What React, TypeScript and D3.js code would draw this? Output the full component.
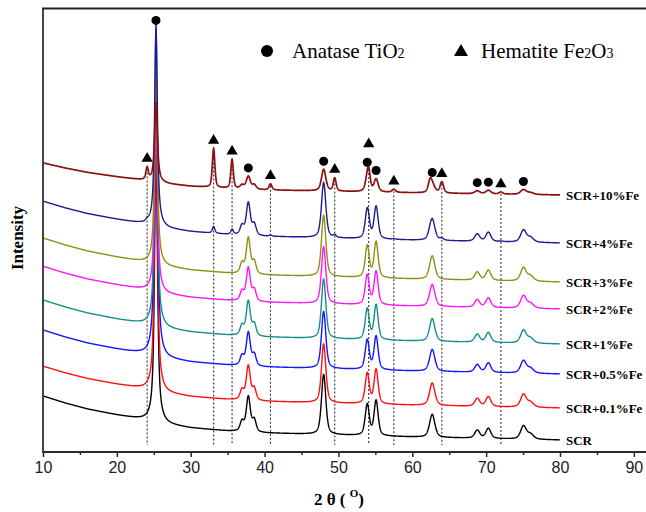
import { useRef, useEffect } from 'react'
import * as d3 from 'd3'

const seriesNames = ['SCR', 'SCR+0.1%Fe', 'SCR+0.5%Fe', 'SCR+1%Fe', 'SCR+2%Fe', 'SCR+3%Fe', 'SCR+4%Fe', 'SCR+10%Fe']
const seriesColors = ['#000000', '#ff1010', '#1414ff', '#13908a', '#ff14ff', '#8f8f12', '#1c1c8c', '#8c1010']
// vertical stacking offset of every pattern (a.u.)
const seriesOffsets = [12, 44, 78, 108, 143, 170, 209, 257]
// anatase (101) peak height of every pattern
const peak101 = [291, 294, 333, 265, 200, 198, 196, 80]
const anataseScale = [1, 0.98, 0.95, 0.99, 0.95, 1.02, 0.92, 0.36]
const hematiteScale = [0, 0, 0, 0, 0, 0, 0.17, 1]
const bgScale = [1, 0.95, 1, 1, 0.97, 1, 0.95, 0.73]

const anataseAngles = [36.95, 37.8, 38.6, 48.0, 53.9, 55.1, 62.7, 68.8, 70.3, 75.05, 76.0]
const anataseHeights = [10, 35, 12, 60, 31, 35, 23, 8, 10, 13, 5]
const anataseWidths = [0.6, 0.65, 0.6, 0.7, 0.65, 0.65, 0.85, 0.8, 0.8, 0.9, 1.0]

const hematiteAngles = [24.1, 33.1, 35.6, 40.8, 49.5, 54.1, 57.5, 62.4, 64.0, 72.0]
const hematiteHeights = [12, 39, 29, 6, 13, 16, 3, 9, 11, 2]
const hematiteWidths = [0.4, 0.4, 0.4, 0.45, 0.45, 0.5, 0.55, 0.55, 0.55, 0.55]

// amorphous background, read at a few angles
const bgAngles = [10, 13, 16, 20, 23, 27, 30, 35, 40, 50, 60, 70, 80]
const bgLevels = [44, 37, 31, 25, 21, 15, 12, 9, 7, 5, 3, 1.5, 0]

const anataseMarks = [37.8, 48.0, 53.9, 55.1, 62.7, 68.8, 70.3, 75.05]
const hematiteMarks = [24.1, 33.1, 35.6, 40.8, 49.5, 54.1, 57.5, 64.0, 72.0]

const xTicks = [10, 20, 30, 40, 50, 60, 70, 80, 90]
const xMinorTicks = [15, 25, 35, 45, 55, 65, 75, 85]

const serif = 'Liberation Serif, Times New Roman, serif'
const sans = 'Liberation Sans, Arial, sans-serif'

const pv = (t: number, c: number, h: number, w: number, eta = 0.5) => {
  const d = (t - c) / (w / 2)
  return h * (eta / (1 + d * d) + (1 - eta) * Math.exp(-Math.LN2 * d * d))
}

const App = () => {
  const ref = useRef<SVGSVGElement>(null)

  useEffect(() => {
    const svg = d3.select(ref.current)
    svg.selectAll('*').remove()

    const x = d3.scaleLinear().domain([10, 80]).range([43, 560])
    const y = d3.scaleLinear().domain([0, 444]).range([452, 8])
    const bg = d3.scaleLinear().domain(bgAngles).range(bgLevels).clamp(true)

    const intensity = (i: number, t: number) => {
      let v = seriesOffsets[i] + bgScale[i] * bg(t)
      v += pv(t, 25.3, peak101[i], 0.45, 0.85)
      anataseAngles.forEach((a, k) => { v += pv(t, a, anataseScale[i] * anataseHeights[k], anataseWidths[k]) })
      if (hematiteScale[i] > 0) {
        hematiteAngles.forEach((a, k) => { v += pv(t, a, hematiteScale[i] * hematiteHeights[k], hematiteWidths[k]) })
      }
      return v
    }

    const angles = d3.range(10, 80.0001, 0.02)
    const top = seriesNames.length - 1

    // dotted guide lines at hematite positions
    svg.append('g')
      .selectAll('line')
      .data(hematiteMarks)
      .enter()
      .append('line')
      .attr('x1', (d) => x(d))
      .attr('x2', (d) => x(d))
      .attr('y1', (d) => y(intensity(top, d)) + 2)
      .attr('y2', 445)
      .style('stroke', '#333')
      .style('stroke-width', 1.1)
      .style('stroke-dasharray', '2,2')

    const line = (i: number) => d3.line<number>()
      .x((t) => x(t))
      .y((t) => y(intensity(i, t)))

    svg.append('g')
      .selectAll('path')
      .data(seriesNames)
      .enter()
      .append('path')
      .attr('d', (d, i) => line(i)(angles))
      .style('fill', 'none')
      .style('stroke', (d, i) => seriesColors[i])
      .style('stroke-width', (d, i) => (i === top ? 1.7 : 1.4))

    // series labels
    svg.append('g')
      .selectAll('text')
      .data(seriesNames)
      .enter()
      .append('text')
      .attr('x', 566)
      .attr('y', (d, i) => y(intensity(i, 80)) + 5)
      .style('font-family', serif)
      .style('font-weight', 'bold')
      .style('font-size', '13px')
      .text((d) => d)

    // phase markers on top pattern
    const marks = svg.append('g')
    marks.selectAll('circle.a')
      .data(anataseMarks)
      .enter()
      .append('circle')
      .attr('cx', (d) => x(d))
      .attr('cy', (d) => y(intensity(top, d)) - 8)
      .attr('r', 4.5)
      .style('fill', '#000')

    const tri = d3.symbol().type(d3.symbolTriangle).size(55)
    marks.selectAll('path')
      .data(hematiteMarks)
      .enter()
      .append('path')
      .attr('d', tri)
      .attr('transform', (d) => {
        const lift = anataseMarks.some((a) => Math.abs(a - d) < 0.5) ? 23 : 8
        return `translate(${x(d)}, ${y(intensity(top, d)) - lift})`
      })
      .style('fill', '#000')

    const highest = d3.max(seriesNames, (d, i) => intensity(i, 25.3)) as number
    marks.append('circle')
      .attr('cx', x(25.3))
      .attr('cy', y(highest) - 3)
      .attr('r', 4.5)
      .style('fill', '#000')

    // legend
    const legend = svg.append('g').style('font-family', serif).style('font-size', '21px')
    legend.append('circle').attr('cx', 267).attr('cy', 51).attr('r', 6).style('fill', '#000')
    const t1 = legend.append('text').attr('x', 292).attr('y', 58)
    t1.append('tspan').text('Anatase TiO')
    t1.append('tspan').style('font-size', '14px').text('2')
    legend.append('path')
      .attr('d', d3.symbol().type(d3.symbolTriangle).size(85)())
      .attr('transform', 'translate(461, 52)')
      .style('fill', '#000')
    const t2 = legend.append('text').attr('x', 481).attr('y', 58)
    t2.append('tspan').text('Hematite Fe')
    t2.append('tspan').style('font-size', '14px').text('2')
    t2.append('tspan').text('O')
    t2.append('tspan').style('font-size', '14px').text('3')

    // axes and frame
    const axisColor = '#2a2a2a'
    const major = svg.append('g')
      .attr('transform', 'translate(0, 452)')
      .call(d3.axisBottom(x).tickValues(xTicks).tickSize(5).tickSizeOuter(0).tickFormat(d3.format('d')))
    major.select('.domain').remove()
    major.selectAll('line').style('stroke', axisColor).style('stroke-width', 1.5)
    major.selectAll('text')
      .attr('y', 10)
      .style('font-family', sans)
      .style('font-size', '16px')
      .style('fill', '#222')

    const minor = svg.append('g')
      .attr('transform', 'translate(0, 452)')
      .call(d3.axisBottom(x).tickValues(xMinorTicks).tickSize(3).tickSizeOuter(0).tickFormat(() => ''))
    minor.select('.domain').remove()
    minor.selectAll('line').style('stroke', axisColor).style('stroke-width', 1.5)

    svg.append('line')
      .attr('x1', 42).attr('x2', 646).attr('y1', 452).attr('y2', 452)
      .style('stroke', axisColor).style('stroke-width', 1.8)
    svg.append('line')
      .attr('x1', 43).attr('x2', 43).attr('y1', 8).attr('y2', 452)
      .style('stroke', '#444').style('stroke-width', 2)
    svg.append('line')
      .attr('x1', 42).attr('x2', 646).attr('y1', 8.5).attr('y2', 8.5)
      .style('stroke', '#222').style('stroke-width', 2)

    // axis titles
    const xt = svg.append('text')
      .attr('x', 339).attr('y', 505)
      .attr('text-anchor', 'middle')
      .style('font-family', serif)
      .style('font-weight', 'bold')
      .style('font-size', '17px')
    xt.append('tspan').text('2 θ ( ')
    xt.append('tspan').attr('dy', -8).style('font-size', '11px').text('O')
    xt.append('tspan').attr('dy', 8).text(')')

    svg.append('text')
      .attr('transform', 'translate(17, 238) rotate(-90)')
      .attr('text-anchor', 'middle')
      .attr('dominant-baseline', 'central')
      .style('font-family', serif)
      .style('font-weight', 'bold')
      .style('font-size', '17px')
      .text('Intensity')
  }, [])

  return (
    <svg ref={ref} width={646} height={512} style={{ position: 'absolute', left: 0, top: 0, background: '#fff' }} />
  )
}

export default App
